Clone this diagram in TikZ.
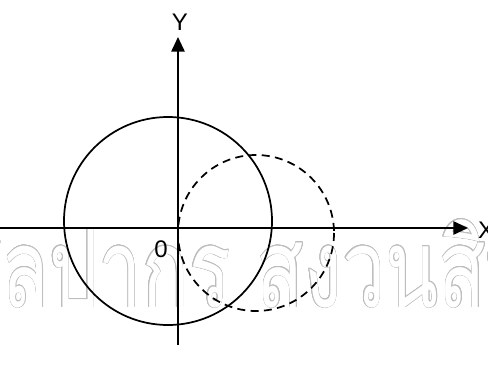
\documentclass[tikz,border=0pt]{standalone}
\usepackage{fontspec}
\setmainfont{Liberation Sans}
\newfontfamily\thaifont[Script=Thai]{Loma}
\usepackage{contour}
\usetikzlibrary{arrows.meta}
\definecolor{inkblack}{HTML}{000000}
\definecolor{markgray}{HTML}{BDBDBD}
\contourlength{0.5pt}
\tikzset{
  axis/.style={draw=inkblack, line width=1.3pt, -{Triangle[length=11pt,width=10pt]}},
  circ/.style={draw=inkblack, line width=1.3pt},
  circd/.style={circ, dash pattern=on 6pt off 4pt},
  lab/.style={font=\fontsize{18}{20}\selectfont, inner sep=0pt},
  wmark/.style={font=\thaifont\fontsize{82}{82}\selectfont, inner sep=0pt, anchor=base west},
}
\begin{document}
\begin{tikzpicture}[x=0.75pt,y=-0.75pt]
  \useasboundingbox (0,0) rectangle (488,367);
  \clip (0,0) rectangle (488,367);
  % watermark
  \node[wmark] (wm) at (-48,307) {\scalebox{0.71}[1]{\contour{markgray}{\color{white}ศิลปากร สงวนสิทธิ์}}};
  % axes
  \coordinate (xl) at (0,228);
  \coordinate (xr) at (468,228);
  \coordinate (yb) at (178,345);
  \coordinate (yt) at (178,37);
  \draw[axis] (xl) -- (xr);
  \draw[axis] (yb) -- (yt);
  \node[lab] (ylab) at (180,22) {Y};
  \node[lab] (xlab) at (486,230) {X};
  \node[lab] (olab) at (161,249) {0};
  % circles
  \coordinate (c1) at (168,221);
  \coordinate (c2) at (256,233);
  \draw[circ] (c1) circle[radius=104];
  \draw[circd] (c2) circle[radius=78];
\end{tikzpicture}
\end{document}
